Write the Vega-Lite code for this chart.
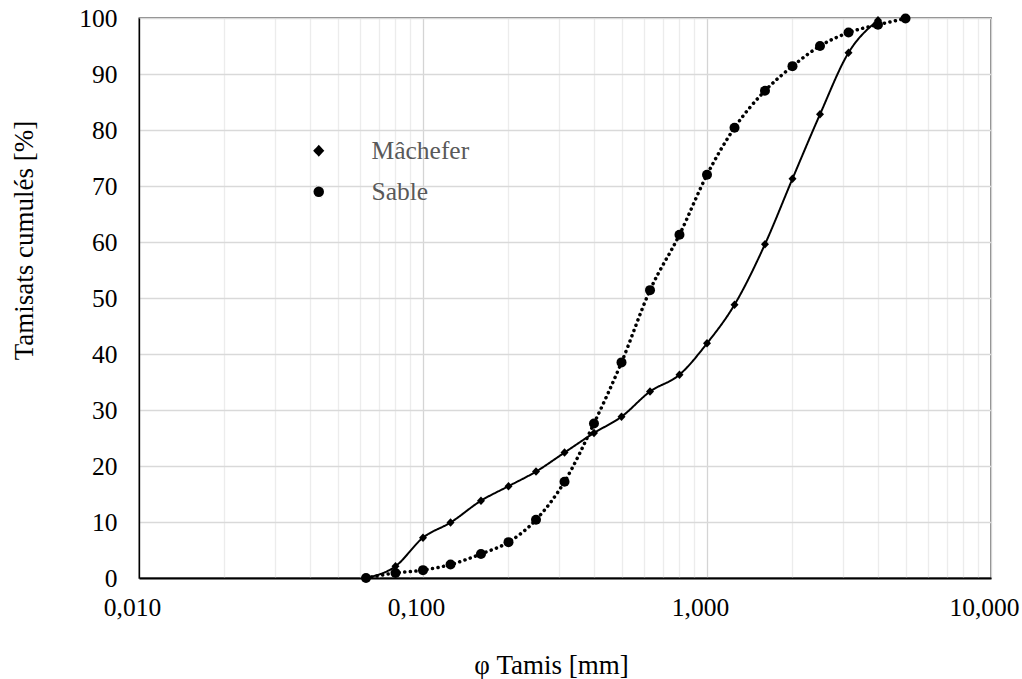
{
  "$schema": "https://vega.github.io/schema/vega-lite/v6.json",
  "autosize": "none",
  "padding": {"left": 139, "top": 18, "right": 31, "bottom": 101},
  "width": 852,
  "height": 560,
  "background": "white",
  "config": {
    "font": "Liberation Serif",
    "view": {"stroke": "black", "strokeWidth": 1.3},
    "axis": {"labelFont": "Liberation Serif", "titleFont": "Liberation Serif", "labelFontSize": 25.5, "titleFontSize": 27, "titleFontWeight": "normal", "labelColor": "black", "titleColor": "black"}
  },
  "data": {"values": [
    {"d": 0.063, "v": 0, "s": "Mâchefer"},
    {"d": 0.08, "v": 2.1, "s": "Mâchefer"},
    {"d": 0.1, "v": 7.2, "s": "Mâchefer"},
    {"d": 0.125, "v": 9.9, "s": "Mâchefer"},
    {"d": 0.16, "v": 13.8, "s": "Mâchefer"},
    {"d": 0.2, "v": 16.4, "s": "Mâchefer"},
    {"d": 0.25, "v": 19.0, "s": "Mâchefer"},
    {"d": 0.315, "v": 22.4, "s": "Mâchefer"},
    {"d": 0.4, "v": 25.9, "s": "Mâchefer"},
    {"d": 0.5, "v": 28.8, "s": "Mâchefer"},
    {"d": 0.63, "v": 33.3, "s": "Mâchefer"},
    {"d": 0.8, "v": 36.3, "s": "Mâchefer"},
    {"d": 1, "v": 41.9, "s": "Mâchefer"},
    {"d": 1.25, "v": 48.8, "s": "Mâchefer"},
    {"d": 1.6, "v": 59.6, "s": "Mâchefer"},
    {"d": 2, "v": 71.3, "s": "Mâchefer"},
    {"d": 2.5, "v": 82.8, "s": "Mâchefer"},
    {"d": 3.15, "v": 93.8, "s": "Mâchefer"},
    {"d": 4, "v": 99.6, "s": "Mâchefer"},
    {"d": 0.063, "v": 0, "s": "Sable"},
    {"d": 0.08, "v": 0.9, "s": "Sable"},
    {"d": 0.1, "v": 1.4, "s": "Sable"},
    {"d": 0.125, "v": 2.4, "s": "Sable"},
    {"d": 0.16, "v": 4.3, "s": "Sable"},
    {"d": 0.2, "v": 6.4, "s": "Sable"},
    {"d": 0.25, "v": 10.4, "s": "Sable"},
    {"d": 0.315, "v": 17.2, "s": "Sable"},
    {"d": 0.4, "v": 27.6, "s": "Sable"},
    {"d": 0.5, "v": 38.5, "s": "Sable"},
    {"d": 0.63, "v": 51.4, "s": "Sable"},
    {"d": 0.8, "v": 61.3, "s": "Sable"},
    {"d": 1, "v": 72.0, "s": "Sable"},
    {"d": 1.25, "v": 80.4, "s": "Sable"},
    {"d": 1.6, "v": 87.0, "s": "Sable"},
    {"d": 2, "v": 91.4, "s": "Sable"},
    {"d": 2.5, "v": 95.0, "s": "Sable"},
    {"d": 3.15, "v": 97.4, "s": "Sable"},
    {"d": 4, "v": 98.8, "s": "Sable"},
    {"d": 5, "v": 99.9, "s": "Sable"}
  ]},
  "encoding": {
    "x": {
      "field": "d", "type": "quantitative",
      "scale": {"type": "log", "domain": [0.01, 10], "nice": false},
      "axis": {
        "title": "φ Tamis [mm]",
        "titleX": 412,
        "values": [0.01,0.02,0.03,0.04,0.05,0.06,0.07,0.08,0.09,0.1,0.2,0.3,0.4,0.5,0.6,0.7,0.8,0.9,1,2,3,4,5,6,7,8,9,10],
        "labelExpr": "abs(log(datum.value)/LN10 - round(log(datum.value)/LN10)) < 1e-6 ? replace(format(datum.value, '.3f'), '.', ',') : ''",
        "ticks": false,
        "domainColor": "black",
        "domainWidth": 2,
        "labelPadding": 17,
        "labelOffset": -7,
        "titlePadding": 32,
        "labelFlush": false,
        "labelOverlap": false,
        "gridColor": {"condition": {"test": "abs(log(datum.value)/LN10 - round(log(datum.value)/LN10)) < 1e-6", "value": "#d4d4d4"}, "value": "#ececec"},
        "gridWidth": 1.3
      }
    },
    "y": {
      "field": "v", "type": "quantitative",
      "scale": {"domain": [0, 100], "nice": false},
      "axis": {
        "title": "Tamisats cumulés [%]",
        "titleY": 222,
        "values": [0,10,20,30,40,50,60,70,80,90,100],
        "ticks": false,
        "domainColor": "black",
        "domainWidth": 1.3,
        "labelPadding": 22,
        "titlePadding": 40,
        "gridColor": "#d9d9d9",
        "gridWidth": 1.3
      }
    }
  },
  "layer": [
    {
      "mark": {"type": "line", "interpolate": "monotone", "color": "black", "strokeCap": "round"},
      "encoding": {
        "detail": {"field": "s", "type": "nominal"},
        "strokeDash": {"field": "s", "type": "nominal", "scale": {"domain": ["Mâchefer", "Sable"], "range": [[1, 0], [0.1, 5.5]]},
          "legend": {
            "title": null,
            "orient": "none",
            "legendX": 167,
            "legendY": 120,
            "padding": 0,
            "symbolSize": 110,
            "symbolFillColor": "black",
            "symbolStrokeColor": "black",
            "rowPadding": 14,
            "labelOffset": 40,
            "labelFont": "Liberation Serif",
            "labelFontSize": 25.5,
            "labelColor": "#595959"
          }
        },
        "strokeWidth": {"field": "s", "type": "nominal", "scale": {"domain": ["Mâchefer", "Sable"], "range": [2, 3.5]}, "legend": null}
      }
    },
    {
      "mark": {"type": "point", "filled": true, "color": "black", "opacity": 1, "size": 100},
      "encoding": {
        "shape": {
          "field": "s", "type": "nominal",
          "scale": {"domain": ["Mâchefer", "Sable"], "range": ["M0,-0.85L0.8,0L0,0.85L-0.8,0Z", "circle"]},
          "legend": null
        }
      }
    }
  ]
}
